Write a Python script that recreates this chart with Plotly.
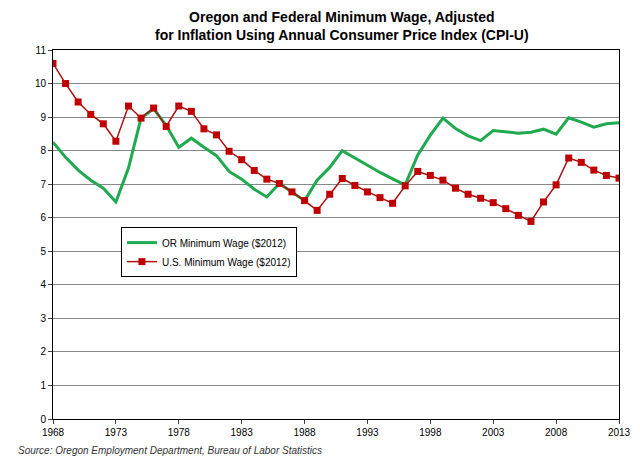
import plotly.graph_objects as go

years = list(range(1968, 2014))
or_wage = [8.25, 7.8, 7.42, 7.12, 6.88, 6.47, 7.48, 8.97, 9.25, 8.75, 8.1, 8.37, 8.1, 7.85, 7.38, 7.15,
           6.85, 6.62, 7.02, 6.77, 6.51, 7.12, 7.5, 8.0, 7.78, 7.56, 7.35, 7.16, 6.98, 7.87, 8.46, 8.97,
           8.66, 8.44, 8.3, 8.6, 8.56, 8.52, 8.55, 8.64, 8.49, 8.98, 8.85, 8.7, 8.8, 8.83]
us_wage = [10.6, 10.0, 9.45, 9.08, 8.8, 8.28, 9.33, 8.97, 9.27, 8.72, 9.33, 9.17, 8.65, 8.47, 7.98, 7.73,
           7.41, 7.15, 7.02, 6.77, 6.51, 6.22, 6.7, 7.17, 6.96, 6.77, 6.6, 6.43, 6.95, 7.38, 7.26, 7.12,
           6.88, 6.7, 6.58, 6.45, 6.27, 6.07, 5.89, 6.47, 6.98, 7.78, 7.65, 7.42, 7.26, 7.18]
tick_years = list(range(1968, 2014, 5))

fig = go.Figure()
fig.add_trace(go.Scatter(x=years, y=or_wage, mode="lines", name="OR Minimum Wage ($2012)",
                         line=dict(color="#1faa4f", width=3)))
fig.add_trace(go.Scatter(x=years, y=us_wage, mode="lines+markers", name="U.S. Minimum Wage ($2012)",
                         line=dict(color="#b01010", width=1.5),
                         marker=dict(symbol="square", size=7, color="#c00000")))

fig.update_layout(
    width=624, height=448, paper_bgcolor="white", plot_bgcolor="white",
    margin=dict(l=45, r=13, t=42, b=37, autoexpand=False),
    font=dict(family="Liberation Sans, Arial", size=10, color="black"),
    xaxis=dict(range=[1968, 2013], tickvals=tick_years, ticks="outside", ticklen=4, automargin=False,
               showline=True, linecolor="black", mirror=True, showgrid=False, zeroline=False),
    yaxis=dict(range=[0, 11], dtick=1, ticks="outside", ticklen=4, showline=True, linecolor="black",
               automargin=False,
               mirror=True, showgrid=True, gridcolor="#888888", gridwidth=1, zeroline=False),
    legend=dict(x=0.12, y=0.52, xanchor="left", yanchor="top", bordercolor="black", borderwidth=1,
                bgcolor="white", font=dict(size=10)),
    showlegend=True,
)
fig.add_annotation(text="<b>Oregon and Federal Minimum Wage, Adjusted<br>for Inflation Using Annual Consumer Price Index (CPI-U)</b>",
                   xref="paper", yref="paper", x=0.51, y=1.013, xanchor="center", yanchor="bottom",
                   showarrow=False, font=dict(size=14))
fig.add_annotation(text="<i>Source: Oregon Employment Department, Bureau of Labor Statistics</i>",
                   xref="paper", yref="paper", x=-0.065, y=-0.065, xanchor="left", yanchor="top",
                   showarrow=False, font=dict(size=10, color="#333333"))
fig.write_html("out.html")
